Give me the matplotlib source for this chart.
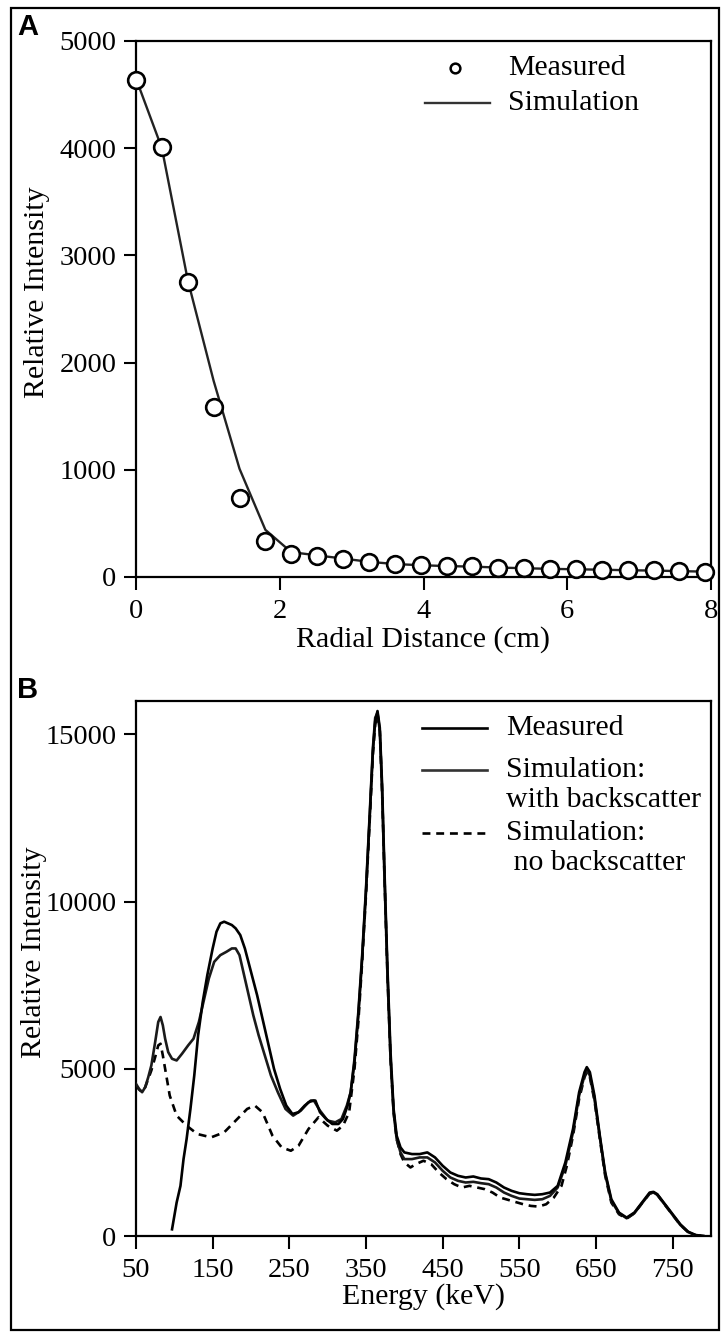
import matplotlib
matplotlib.use('Agg')
import matplotlib.pyplot as plt
from matplotlib.lines import Line2D
from matplotlib.patches import Rectangle

plt.rcParams['font.family'] = ['Liberation Serif', 'DejaVu Serif']

W, H = 723, 1332

# ---------------- Panel A data ----------------
radial_cm = [0.00, 0.36, 0.72, 1.08, 1.44, 1.80, 2.16, 2.52, 2.88, 3.24, 3.60, 3.96,
             4.32, 4.68, 5.04, 5.40, 5.76, 6.12, 6.48, 6.84, 7.20, 7.56, 7.92]
measured_a = [4636, 4011, 2752, 1590, 740, 336, 218, 200, 171, 140, 118, 109,
              103, 100, 87, 81, 75, 75, 69, 62, 62, 56, 50]
simulation_a = [4650, 4000, 2770, 1830, 1010, 440, 232, 202, 172, 142, 121, 110,
                102, 97, 88, 82, 76, 72, 68, 63, 60, 55, 50]
a_xticks = [0, 2, 4, 6, 8]
a_yticks = [0, 1000, 2000, 3000, 4000, 5000]

# ---------------- Panel B data ----------------
meas_e = [97, 100, 103, 108, 112, 116, 121, 126, 131, 137, 143, 150, 155, 160, 165, 170,
          175, 180, 186, 192, 200, 208, 215, 222, 230, 238, 246, 254, 262, 270, 278, 284,
          290, 298, 306, 314, 320, 326, 330, 335, 340, 345, 350, 355, 359, 362, 365, 368,
          371, 374, 378, 382, 386, 390, 395, 400, 410, 420, 430, 440, 450, 460, 470, 480,
          490, 500, 510, 520, 530, 540, 550, 560, 570, 580, 590, 600, 610, 620, 628, 635,
          638, 642, 648, 655, 662, 670, 680, 690, 700, 710, 720, 725, 730, 740, 750, 760,
          770, 780, 790]
meas_i = [200, 600, 1000, 1500, 2300, 2900, 3800, 4800, 6000, 7000, 7800, 8600, 9100, 9350, 9400, 9350,
          9300, 9200, 9000, 8600, 7900, 7200, 6500, 5800, 5000, 4400, 3900, 3650, 3700, 3900, 4050, 4050,
          3700, 3500, 3350, 3350, 3500, 3900, 4300, 5200, 6600, 8300, 10300, 12600, 14500, 15400, 15700, 15200,
          13500, 11000, 8000, 5500, 3800, 3000, 2650, 2500, 2450, 2450, 2500, 2350, 2100, 1900, 1800, 1750,
          1780, 1720, 1700, 1600, 1450, 1350, 1280, 1250, 1230, 1250, 1300, 1500, 2200, 3200, 4300, 4900,
          5050, 4900, 4200, 3000, 1900, 1100, 700, 550, 700, 1000, 1300, 1320, 1250, 950, 650, 350,
          130, 30, 0]

simbs_e = [50, 54, 58, 62, 66, 70, 75, 79, 82, 85, 88, 92, 97, 103, 110, 118, 125, 132, 138,
           145, 152, 160, 168, 175, 180, 185, 190, 196, 203, 210, 218, 226, 235, 245, 255, 265,
           275, 282, 290, 300, 310, 318, 325, 330, 335, 340, 345, 350, 355, 359, 362, 365, 368,
           371, 374, 378, 382, 386, 390, 395, 400, 410, 420, 430, 440, 450, 460, 470, 480, 490,
           500, 510, 520, 530, 540, 550, 560, 570, 580, 590, 600, 610, 620, 628, 635, 638, 642,
           648, 655, 662, 670, 680, 690, 700, 710, 720, 725, 730, 740, 750, 760, 770, 780, 790]
simbs_i = [4550, 4400, 4300, 4450, 4750, 5100, 5800, 6400, 6550, 6300, 5900, 5500, 5300, 5250, 5450, 5700, 5900, 6400, 7000,
           7700, 8200, 8400, 8500, 8600, 8600, 8400, 7900, 7300, 6600, 6000, 5400, 4800, 4300, 3800, 3600, 3750,
           4000, 4050, 3750, 3450, 3400, 3500, 3900, 4300, 5300, 6700, 8400, 10400, 12700, 14600, 15500, 15650, 15100,
           13300, 10800, 7800, 5300, 3700, 2900, 2500, 2300, 2300, 2350, 2350, 2200, 1950, 1750, 1650, 1600, 1620,
           1580, 1550, 1450, 1300, 1200, 1120, 1100, 1080, 1100, 1200, 1450, 2100, 3100, 4200, 4800, 4950, 4800,
           4100, 2950, 1850, 1050, 680, 530, 680, 980, 1270, 1300, 1230, 930, 630, 330, 120, 20, 0]

nobs_e = [50, 54, 58, 62, 66, 70, 75, 79, 82, 85, 88, 94, 103, 116, 130, 148, 165, 180, 195,
          205, 215, 228, 240, 252, 262, 275, 288, 300, 312, 320, 328, 335, 340, 345, 350, 355,
          359, 362, 365, 368, 371, 374, 378, 382, 386, 390, 395, 400, 408, 415, 425, 435, 445,
          455, 465, 475, 485, 495, 505, 515, 525, 540, 555, 565, 575, 585, 595, 605, 612, 620,
          628, 635, 638, 642, 648, 655, 662, 670, 680, 690, 700, 710, 720, 725, 730, 740, 750,
          760, 770, 780, 790]
nobs_i = [4500, 4380, 4300, 4450, 4700, 4950, 5350, 5700, 5750, 5400, 5000, 4200, 3600, 3300, 3050, 2950, 3100, 3450, 3800,
          3900, 3700, 3000, 2650, 2550, 2700, 3200, 3550, 3300, 3150, 3300, 3700, 5000, 6400, 8200, 10200, 12500,
          14400, 15300, 15600, 15100, 13300, 10800, 7800, 5300, 3700, 2900, 2450, 2200, 2050, 2150, 2250, 2150, 1900,
          1700, 1550, 1450, 1500, 1450, 1400, 1300, 1150, 1050, 950, 900, 880, 950, 1150, 1500, 2100, 3000,
          4100, 4750, 4900, 4750, 4050, 2900, 1800, 1000, 650, 520, 680, 980, 1270, 1300, 1230, 930, 630,
          330, 120, 20, 0]
b_xticks = [50, 150, 250, 350, 450, 550, 650, 750]
b_yticks = [0, 5000, 10000, 15000]

TFS = 20.5   # tick labels
LFS = 21.5   # axis labels / legend text

fig = plt.figure(figsize=(W / 100, H / 100), dpi=100)


def fx(px):
    return px / W


def fy(py):
    return 1 - py / H


def style_axes(ax):
    for s in ax.spines.values():
        s.set_linewidth(1.6)
    ax.tick_params(direction='out', length=9, width=1.5, labelsize=TFS, top=False, right=False)
    ax.tick_params(axis='x', pad=7)
    ax.tick_params(axis='y', pad=5)


def ftext(px, py, s, **kw):
    return fig.text(fx(px), fy(py), s, fontsize=LFS, va='center', ha='left', **kw)


L, R = 136, 711
# Panel A axes
axA = fig.add_axes([fx(L), fy(577), fx(R) - fx(L), fy(41) - fy(577)])
axA.plot(radial_cm, simulation_a, color='#222222', lw=1.7, zorder=2)
axA.plot(radial_cm, measured_a, linestyle='none', marker='o', markersize=12,
         markerfacecolor='white', markeredgecolor='black', markeredgewidth=1.9, zorder=3,
         clip_on=False)
axA.set_xlim(0, 8)
axA.set_ylim(0, 5000)
axA.set_xticks(a_xticks)
axA.set_yticks(a_yticks)
style_axes(axA)
axA.set_xlabel('Radial Distance (cm)', fontsize=LFS, va='center')
axA.xaxis.set_label_coords(0.5, -0.1175)
axA.set_ylabel('Relative Intensity', fontsize=LFS, va='center')
axA.yaxis.set_label_coords(-0.172, 0.532)

# Panel A legend (manual)
fig.add_artist(Line2D([fx(455)], [fy(68)], marker='o', markersize=7, markerfacecolor='white',
                      markeredgecolor='black', markeredgewidth=1.8, linestyle='none'))
ftext(508, 68, 'Measured')
fig.add_artist(Line2D([fx(425), fx(490)], [fy(103), fy(103)], color='#333333', lw=1.7))
ftext(508, 103, 'Simulation')

# Panel B axes
axB = fig.add_axes([fx(L), fy(1236), fx(R) - fx(L), fy(701) - fy(1236)])
axB.plot(nobs_e, nobs_i, color='black', lw=1.9, linestyle=(0, (3, 2.2)), zorder=2)
axB.plot(simbs_e, simbs_i, color='#1a1a1a', lw=1.9, zorder=3)
axB.plot(meas_e, meas_i, color='black', lw=1.9, zorder=4)
axB.set_xlim(50, 800)
axB.set_ylim(0, 16000)
axB.set_xticks(b_xticks)
axB.set_yticks(b_yticks)
style_axes(axB)
axB.set_xlabel('Energy (keV)', fontsize=LFS, va='center')
axB.xaxis.set_label_coords(0.5, -0.114)
axB.set_ylabel('Relative Intensity', fontsize=LFS, va='center')
axB.yaxis.set_label_coords(-0.178, 0.531)

# Panel B legend (manual)
hx0, hx1, tx = 422, 487, 506
fig.add_artist(Line2D([fx(hx0), fx(hx1)], [fy(728), fy(728)], color='black', lw=1.9))
ftext(tx, 728, 'Measured')
fig.add_artist(Line2D([fx(hx0), fx(hx1)], [fy(770), fy(770)], color='#333333', lw=1.9))
ftext(tx, 770, 'Simulation:')
ftext(tx, 800, 'with backscatter')
fig.add_artist(Line2D([fx(hx0), fx(hx1)], [fy(833), fy(833)], color='black', lw=1.9,
                      linestyle=(0, (3, 2.2))))
ftext(tx, 833, 'Simulation:')
ftext(tx, 863, ' no backscatter')

# Panel letters
fig.text(fx(28), fy(27), 'A', fontsize=21, fontweight='bold', family='Liberation Sans',
         ha='center', va='center')
fig.text(fx(28), fy(690), 'B', fontsize=21, fontweight='bold', family='Liberation Sans',
         ha='center', va='center')

# Outer frame
fig.add_artist(Rectangle((fx(11), fy(1330)), fx(719) - fx(11), fy(8) - fy(1330),
                         fill=False, lw=1.6, edgecolor='black', transform=fig.transFigure))

fig.savefig('out.png', dpi=100)
